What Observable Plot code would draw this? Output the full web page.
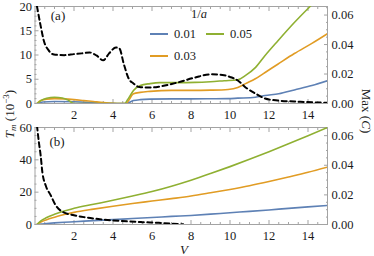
<!DOCTYPE html>
<html><head><meta charset="utf-8">
<script src="https://cdn.jsdelivr.net/npm/d3@7"></script>
<script src="https://cdn.jsdelivr.net/npm/@observablehq/plot@0.6"></script>
<style>
body{margin:0;background:#fff;}
#wrap{position:relative;width:374px;height:256px;overflow:hidden;font-family:"Liberation Serif","Times New Roman",serif;color:#1a1a1a;}
#wrap svg, #wrap svg text{font-family:"Liberation Serif","Times New Roman",serif !important;}
.ov{position:absolute;white-space:nowrap;font-size:13px;line-height:1;}
.sw{position:absolute;height:2px;width:18px;}
</style></head><body>
<div id="wrap">
 <div id="pa" style="position:absolute;left:0;top:0"></div>
 <div id="pb" style="position:absolute;left:0;top:121px"></div>
</div>
<script>
// ---------- data ----------
const seriesNames = ["0.01", "0.03", "0.05"];
const seriesColors = ["#5e81b5", "#e19c24", "#8fb032"];

// Panel (a): T_m (10^-3) vs V
const aV_001 = [0.1,0.4,1.0,2.0,3.0,3.8,4.2,4.65,5.05,5.4,5.9,7,8,9,9.9,10.4,11.3,11.8,12.5,13.3,14.2,15];
const aT_001 = [0,0.3,0.4,0.35,0.2,0.05,0,0,0.6,0.8,0.9,0.95,0.95,0.97,1.0,1.1,1.3,1.65,2.0,2.8,3.7,4.7];
const aV_003 = [0.1,0.3,0.6,1.0,1.5,2.0,2.5,3.0,3.5,4.0,4.4,4.65,5.05,5.4,5.9,7,8,9,9.9,10.4,10.8,11.3,11.8,12.45,13.3,14.2,15];
const aT_003 = [0,0.6,0.9,1.0,0.95,0.8,0.6,0.4,0.2,0.05,0,0,2.0,2.3,2.5,2.7,2.7,2.75,2.9,3.3,4.1,5.1,6.4,8.1,10.3,12.4,14.4];
const aV_005 = [0.1,0.3,0.6,1.0,1.4,1.7,2.0,4.6,4.75,5.05,5.4,5.9,6.4,7.3,8.2,9.0,9.7,10.4,10.8,11.3,11.8,12.45,13.3,14.2,15];
const aT_005 = [0,0.6,1.1,1.3,1.15,0.7,0,0,0.8,2.7,3.7,4.1,4.3,4.3,4.35,4.5,4.7,4.9,5.8,7.4,9.9,12.9,16.7,20.4,23.6];
// Panel (a): Max(C) vs V (dashed, right axis)
const aV_max = [0.1,0.3,0.45,0.7,0.97,1.5,2.0,2.4,2.8,3.15,3.5,3.8,4.15,4.33,4.55,4.8,5.05,5.35,5.9,6.4,7.3,8.2,9.0,9.7,10.0,10.4,10.8,11.3,11.8,12.45,13.3,14.4,15];
const aC_max = [0.066,0.052,0.0427,0.036,0.0332,0.0328,0.0335,0.034,0.0346,0.0326,0.0293,0.034,0.038,0.0373,0.027,0.017,0.0136,0.0112,0.0108,0.0115,0.0142,0.0176,0.0198,0.0192,0.018,0.0156,0.0109,0.0068,0.0034,0.002,0.0014,0.0007,0.0005];

// Panel (b)
const bV = [0.1,0.3,0.6,1,1.5,2,3,4,5,6,7,8,9,10,11,12,13,14,15];
const bT_001 = [0,0.3,0.6,1,1.4,1.7,2.4,3,3.7,4.3,5,5.6,6.4,7.3,8.1,9,10,10.9,11.8];
const bT_003 = [0,1.5,3,4.5,6.2,7.5,9.5,11.3,13,14.5,16,17.6,19.6,21.7,24,26.6,29.4,32.3,35.5];
const bT_005 = [0,2.3,4.3,6.3,8.4,10,12.5,15,17.6,20.4,23.7,27.4,31.5,35.8,40.3,45,49.9,54.9,60];
const bV_max = [0.1,0.2,0.29,0.38,0.55,0.81,1.07,1.42,2.0,2.6,3.24,4.3,5.5,6.35,7.0,7.6];
const bC_max = [0.067,0.0554,0.0466,0.0351,0.0263,0.0196,0.0128,0.0085,0.0062,0.0048,0.0037,0.0025,0.0016,0.0011,0.0006,0.0001];

// ticks
const xMajor = [2,4,6,8,10,12,14];
const xMinor = d3.range(0.5, 15.01, 0.5).filter(v => v % 2 !== 0);
const aYMajor = [0,5,10,15,20];
const aYMinor = d3.range(1, 20, 1).filter(v => v % 5 !== 0);
const bYMajor = [0,20,40,60];
const bYMinor = d3.range(5, 60, 5).filter(v => v % 20 !== 0);
const cMajor = [0,0.02,0.04,0.06];
const cMinor = [0.005,0.01,0.015,0.025,0.03,0.035,0.045,0.05,0.055,0.065];

// ---------- build ----------
const GREY = "#a3a3a3";
const FONT = "'Liberation Serif', 'Times New Roman', serif";
const rows = (V, Y) => V.map((v, i) => ({V: v, Y: Y[i]}));

function panel(yMax, cMax, series, maxRows, yMajor, yMinor) {
  const k = yMax / cMax;
  const cLabel = d => (d / k).toFixed(2);
  const marks = [
    Plot.frame({stroke: GREY}),
    Plot.axisX({ticks: xMajor, anchor: "bottom", tickSize: -4, fill: "none", stroke: GREY, label: null}),
    Plot.axisX({ticks: xMinor, anchor: "bottom", tickSize: -2, fill: "none", stroke: GREY, label: null}),
    Plot.axisX({ticks: xMajor, anchor: "top", tickSize: -4, fill: "none", stroke: GREY, label: null}),
    Plot.axisX({ticks: xMinor, anchor: "top", tickSize: -2, fill: "none", stroke: GREY, label: null}),
    Plot.axisY({ticks: yMajor, anchor: "left", tickSize: -4, fill: "none", stroke: GREY, label: null}),
    Plot.axisY({ticks: yMinor, anchor: "left", tickSize: -2, fill: "none", stroke: GREY, label: null}),
    Plot.axisY({ticks: cMajor.map(c => c * k), anchor: "right", tickSize: -4, fill: "none", stroke: GREY, label: null}),
    Plot.axisY({ticks: cMinor.map(c => c * k), anchor: "right", tickSize: -2, fill: "none", stroke: GREY, label: null}),
    Plot.axisX({ticks: xMajor, anchor: "bottom", tickSize: 0, tickPadding: 7, label: null, fill: "#1a1a1a", fontFamily: FONT}),
    Plot.axisY({ticks: yMajor, anchor: "left", tickSize: 0, tickPadding: 3, label: null, fill: "#1a1a1a", fontFamily: FONT}),
    Plot.axisY({ticks: cMajor.map(c => c * k), anchor: "right", tickSize: 0, tickPadding: 4, label: null, fill: "#1a1a1a", fontFamily: FONT, tickFormat: cLabel}),
  ];
  series.forEach((s, i) => {
    marks.push(Plot.line(s, {x: "V", y: "Y", stroke: seriesColors[i], strokeWidth: 1.6, curve: "monotone-x", clip: true}));
  });
  marks.push(Plot.line(maxRows, {x: "V", y: d => d.Y * k, stroke: "#000", strokeWidth: 2, strokeDasharray: "5,3.5", curve: "monotone-x", clip: true}));
  return marks;
}

const style = {fontFamily: FONT, fontSize: "12.5px", color: "#1a1a1a", background: "transparent", overflow: "visible"};

const plotA = Plot.plot({
  width: 374, height: 121,
  marginLeft: 34.5, marginRight: 47, marginTop: 6, marginBottom: 18,
  x: {domain: [0, 15]}, y: {domain: [0, 20]},
  style,
  marks: panel(20, 0.0658,
    [rows(aV_001, aT_001), rows(aV_003, aT_003), rows(aV_005, aT_005)],
    rows(aV_max, aC_max), aYMajor, aYMinor)
});
document.getElementById("pa").appendChild(plotA);

const plotB = Plot.plot({
  width: 374, height: 135,
  marginLeft: 34.5, marginRight: 47, marginTop: 6, marginBottom: 32,
  x: {domain: [0, 15]}, y: {domain: [0, 60]},
  style,
  marks: panel(60, 0.0655,
    [rows(bV, bT_001), rows(bV, bT_003), rows(bV, bT_005)],
    rows(bV_max, bC_max), bYMajor, bYMinor)
});
document.getElementById("pb").appendChild(plotB);

// ---------- annotations ----------
const wrap = document.getElementById("wrap");
function ov(html, cx, cy, rot, size) {
  const d = document.createElement("div");
  d.className = "ov";
  d.innerHTML = html;
  d.style.left = cx + "px";
  d.style.top = cy + "px";
  if (size) d.style.fontSize = size + "px";
  d.style.transform = "translate(-50%,-50%)" + (rot ? ` rotate(${rot}deg)` : "");
  wrap.appendChild(d);
}
function swatch(x, y, color) {
  const d = document.createElement("div");
  d.className = "sw";
  d.style.left = x + "px";
  d.style.top = (y - 1) + "px";
  d.style.background = color;
  wrap.appendChild(d);
}
function leftText(txt, x, cy) {
  const d = document.createElement("div");
  d.className = "ov";
  d.textContent = txt;
  d.style.left = x + "px";
  d.style.top = cy + "px";
  d.style.fontSize = "12.5px";
  d.style.transform = "translateY(-50%)";
  wrap.appendChild(d);
}
ov("(a)", 58, 15, 0, 13);
ov("(b)", 57, 141, 0, 13);
ov("<i>V</i>", 184, 249, 0, 13);
ov('<i>T</i><sub style="font-size:9px;vertical-align:-2px"><i>m</i></sub> (10<sup style="font-size:9px;vertical-align:5px">−3</sup>)', 10, 114, -90, 13);
ov("Max (<i>C</i>)", 366, 111, 90, 13);
// legend
ov("1/<i>a</i>", 199, 14, 0, 12.5);
swatch(150, 34, seriesColors[0]); leftText(seriesNames[0], 174, 34);
swatch(206, 34, seriesColors[2]); leftText(seriesNames[2], 230, 34);
swatch(150, 56, seriesColors[1]); leftText(seriesNames[1], 174, 56);
</script>
</body></html>
